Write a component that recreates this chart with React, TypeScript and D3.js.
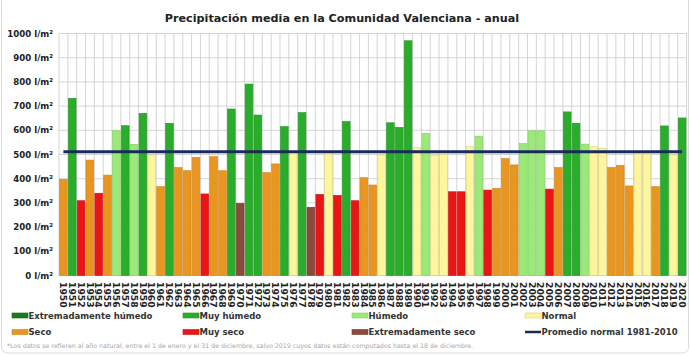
import React from "react";
import * as d3 from "d3";

const years: number[] = d3.range(1950, 2021);
const values: number[] = [
  397, 732, 309, 477, 340, 415, 598, 619, 542, 670,
  498, 367, 629, 446, 433, 488, 337, 491, 433, 688,
  298, 791, 663, 425, 461, 615, 502, 673, 282, 335,
  502, 331, 636, 309, 404, 374, 498, 631, 612, 970,
  528, 587, 498, 500, 346, 346, 532, 576, 353, 360,
  483, 457, 545, 598, 598, 357, 446, 676, 629, 543,
  532, 525, 446, 455, 370, 502, 502, 367, 618, 498,
  651,
];
const classes: string[] = [
  "S", "MH", "MS", "S", "MS", "S", "H", "MH", "H", "MH",
  "N", "S", "MH", "S", "S", "S", "MS", "S", "S", "MH",
  "ES", "MH", "MH", "S", "S", "MH", "N", "MH", "ES", "MS",
  "N", "MS", "MH", "MS", "S", "S", "N", "MH", "MH", "MH",
  "N", "H", "N", "N", "MS", "MS", "N", "H", "MS", "S",
  "S", "S", "H", "H", "H", "MS", "S", "MH", "MH", "H",
  "N", "N", "S", "S", "S", "N", "N", "S", "MH", "N",
  "MH",
];
const average = 511;
const yTicks: number[] = [0, 100, 200, 300, 400, 500, 600, 700, 800, 900, 1000];

const classKeys = ["EH", "MH", "H", "N", "S", "MS", "ES"];
const classLabels = [
  "Extremadamente húmedo",
  "Muy húmedo",
  "Húmedo",
  "Normal",
  "Seco",
  "Muy seco",
  "Extremadamente seco",
];
const classFill = ["#1c7a1c", "#2aad2a", "#9bea78", "#fdf69c", "#e8961f", "#ec1515", "#8a4a3c"];
const classStroke = ["#16651a", "#229322", "#7fcf60", "#d8cf7c", "#cf8318", "#c81010", "#723a2f"];

const title = "Precipitación media en la Comunidad Valenciana - anual";
const footnote =
  "*Los datos se refieren al año natural, entre el 1 de enero y el 31 de diciembre, salvo 2019 cuyos datos están computados hasta el 18 de diciembre.";
const avgLabel = "Promedio normal 1981-2010";

export default function App() {
  const W = 690;
  const H = 356;
  const left = 59;
  const right = 686.5;
  const top = 33.5;
  const bottom = 275.5;

  const x = d3.scaleBand<number>().domain(years).range([left, right]).paddingInner(0.13).paddingOuter(0.06);
  const y = d3.scaleLinear().domain([0, 1000]).range([bottom, top]);
  const step = x.step();
  const fillOf = (c: string) => classFill[classKeys.indexOf(c)];
  const strokeOf = (c: string) => classStroke[classKeys.indexOf(c)];
  const font = "'DejaVu Sans', Verdana, sans-serif";

  const gridX = d3.range(0, years.length + 1).map((i) => left + i * step);

  const legendCols = [12, 183, 352, 525];
  const legendRows = [315.5, 332];
  const legendItems: { key: string | null; label: string; col: number; row: number }[] = [
    { key: "EH", label: classLabels[0], col: 0, row: 0 },
    { key: "MH", label: classLabels[1], col: 1, row: 0 },
    { key: "H", label: classLabels[2], col: 2, row: 0 },
    { key: "N", label: classLabels[3], col: 3, row: 0 },
    { key: "S", label: classLabels[4], col: 0, row: 1 },
    { key: "MS", label: classLabels[5], col: 1, row: 1 },
    { key: "ES", label: classLabels[6], col: 2, row: 1 },
    { key: null, label: avgLabel, col: 3, row: 1 },
  ];

  const firstC = (x(years[0]) as number) + x.bandwidth() / 2;
  const lastC = (x(years[years.length - 1]) as number) + x.bandwidth() / 2;

  return (
    <svg
      width={W}
      height={H}
      style={{ position: "absolute", left: 0, top: 0, background: "#fff", fontFamily: font }}
    >
      <rect x={1.5} y={-4} width={W - 3} height={357} rx={6} fill="#fff" stroke="#dcdcdc" strokeWidth={1} />
      <text x={342} y={21.5} textAnchor="middle" fontSize={11.2} fontWeight="bold" fill="#222">
        {title}
      </text>
      {/* grid */}
      <g stroke="#c9c9c9" strokeWidth={0.8}>
        {yTicks.map((t) => (
          <line key={"h" + t} x1={left} x2={right} y1={y(t)} y2={y(t)} />
        ))}
        {gridX.map((gx, i) => (
          <line key={"v" + i} x1={gx} x2={gx} y1={top} y2={bottom} />
        ))}
      </g>
      {/* y labels */}
      <g fontSize={8.6} fontWeight="bold" fill="#222" textAnchor="end">
        {yTicks.map((t) => (
          <text key={"yl" + t} x={53} y={y(t) + 3}>
            {t} l/m²
          </text>
        ))}
      </g>
      {/* bars */}
      <g>
        {years.map((yr, i) => (
          <rect
            key={yr}
            x={x(yr)}
            y={y(values[i])}
            width={x.bandwidth()}
            height={bottom - y(values[i])}
            fill={fillOf(classes[i])}
            stroke={strokeOf(classes[i])}
            strokeWidth={0.6}
          />
        ))}
      </g>
      {/* average line */}
      <line x1={firstC} x2={lastC} y1={y(average)} y2={y(average)} stroke="#1b2a5c" strokeWidth={3} />
      {/* x labels */}
      <g fontSize={9.2} fontWeight="bold" fill="#222">
        {years.map((yr) => {
          const cx = (x(yr) as number) + x.bandwidth() / 2;
          return (
            <text key={"xl" + yr} transform={`translate(${cx - 3.3},${282}) rotate(90)`} textAnchor="start">
              {yr}
            </text>
          );
        })}
      </g>
      {/* legend */}
      <g fontSize={8.5} fontWeight="bold" fill="#333">
        {legendItems.map((it, i) => {
          const lx = legendCols[it.col];
          const ly = legendRows[it.row];
          return (
            <g key={"lg" + i}>
              {it.key ? (
                <rect
                  x={lx}
                  y={ly - 2.5}
                  width={16}
                  height={5}
                  fill={fillOf(it.key)}
                  stroke={strokeOf(it.key)}
                  strokeWidth={0.6}
                />
              ) : (
                <line x1={lx} x2={lx + 16} y1={ly} y2={ly} stroke="#1b2a5c" strokeWidth={2.5} />
              )}
              <text x={lx + 16.5} y={ly + 3.1}>
                {it.label}
              </text>
            </g>
          );
        })}
      </g>
      <text x={7} y={348} fontSize={6.3} fill="#a5a5a5">
        {footnote}
      </text>
    </svg>
  );
}
